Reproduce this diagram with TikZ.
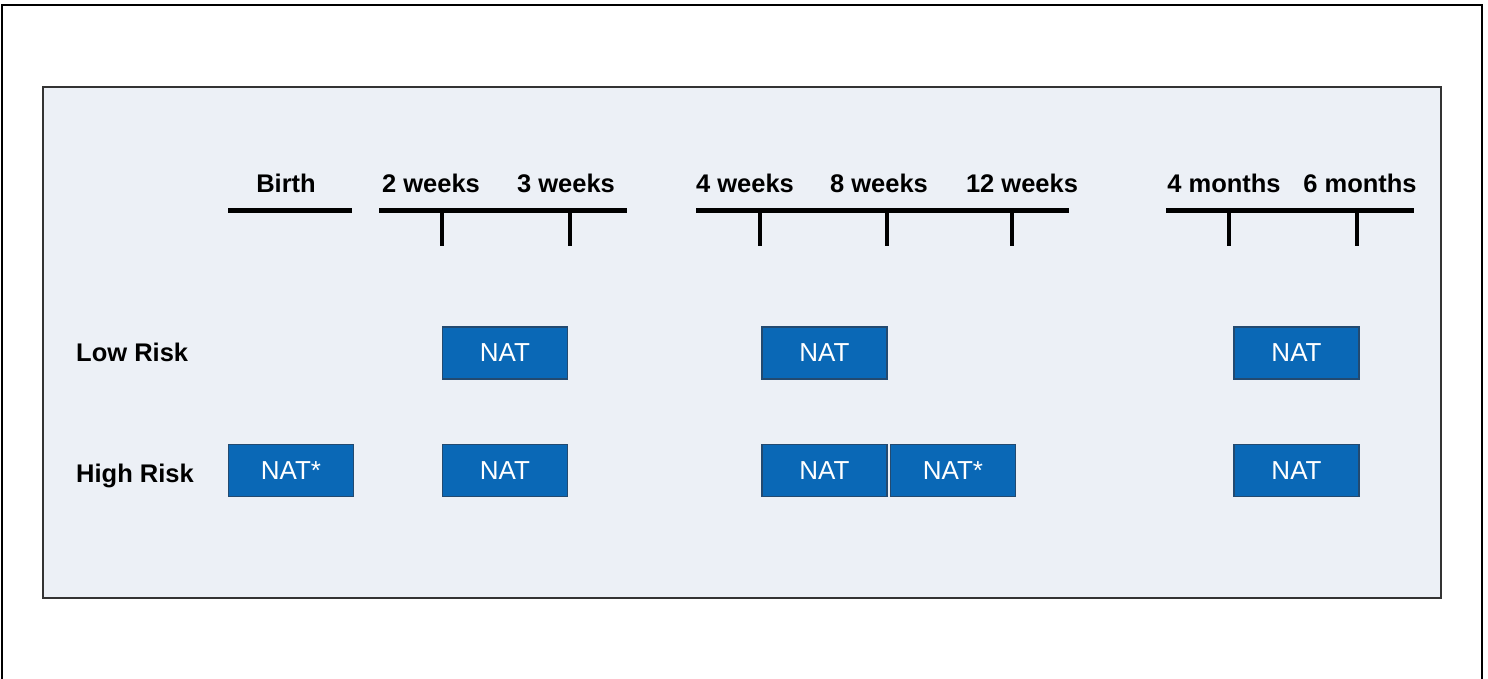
\documentclass[tikz,border=0pt]{standalone}
\usepackage{fontspec}
\setmainfont{Liberation Sans}
\definecolor{panel}{HTML}{ECF0F6}
\definecolor{natfill}{HTML}{0A68B6}
\definecolor{natedge}{HTML}{234A70}
\tikzset{
  head/.style={font=\bfseries\fontsize{25.5}{28}\selectfont, anchor=base},
  rowlab/.style={font=\bfseries\fontsize{25.5}{28}\selectfont, anchor=base west, inner sep=0pt},
  natbox/.style={draw=natedge, line width=1.5pt, fill=natfill, text=white,
    minimum width=125pt, minimum height=52pt, inner sep=0pt,
    font=\fontsize{26}{28}\selectfont},
  bar/.style={line width=5pt},
  tick/.style={line width=4pt},
}
\begin{document}
\begin{tikzpicture}[x=1pt,y=-1pt]
\useasboundingbox (0,0) rectangle (1488,679);
% outer frame (open at bottom)
\draw[line width=2pt] (2,679) -- (2,5) -- (1482,5) -- (1482,679);
% panel
\draw[line width=2pt, draw=black!80, fill=panel] (43,87) rectangle (1441,598);
% headings
\node[head] (hb)  at (286,193) {Birth};
\node[head] (h2w) at (431,193) {2 weeks};
\node[head] (h3w) at (566,193) {3 weeks};
\node[head] (h4w) at (745,193) {4 weeks};
\node[head] (h8w) at (879,193) {8 weeks};
\node[head] (h12w) at (1022,193) {12 weeks};
\node[head] (h4m) at (1224,193) {4 months};
\node[head] (h6m) at (1360,193) {6 months};
% timeline bars
\coordinate (b1s) at (228,211); \coordinate (b1e) at (352,211);
\coordinate (b2s) at (379,211); \coordinate (b2e) at (627,211);
\coordinate (b3s) at (696,211); \coordinate (b3e) at (1069,211);
\coordinate (b4s) at (1166,211); \coordinate (b4e) at (1414,211);
\draw[bar] (b1s) -- (b1e);
\draw[bar] (b2s) -- (b2e);
\draw[bar] (b3s) -- (b3e);
\draw[bar] (b4s) -- (b4e);
% ticks
\foreach \x/\n in {442/t1,570/t2,760/t3,887/t4,1012/t5,1229/t6,1357/t7}{
  \coordinate (\n a) at (\x,211);
  \coordinate (\n b) at (\x,246);
  \draw[tick] (\n a) -- (\n b);
}
% row labels
\node[rowlab] (low) at (76,361) {Low Risk};
\node[rowlab] (high) at (76,482) {High Risk};
% low risk boxes
\node[natbox] (l1) at (505,353) {NAT};
\node[natbox] (l2) at (824.5,353) {NAT};
\node[natbox] (l3) at (1296.5,353) {NAT};
% high risk boxes
\node[natbox] (h1) at (291,470.5) {NAT*};
\node[natbox] (h2) at (505,470.5) {NAT};
\node[natbox] (h3) at (824.5,470.5) {NAT};
\node[natbox] (h4) at (953,470.5) {NAT*};
\node[natbox] (h5) at (1296.5,470.5) {NAT};
\end{tikzpicture}
\end{document}
